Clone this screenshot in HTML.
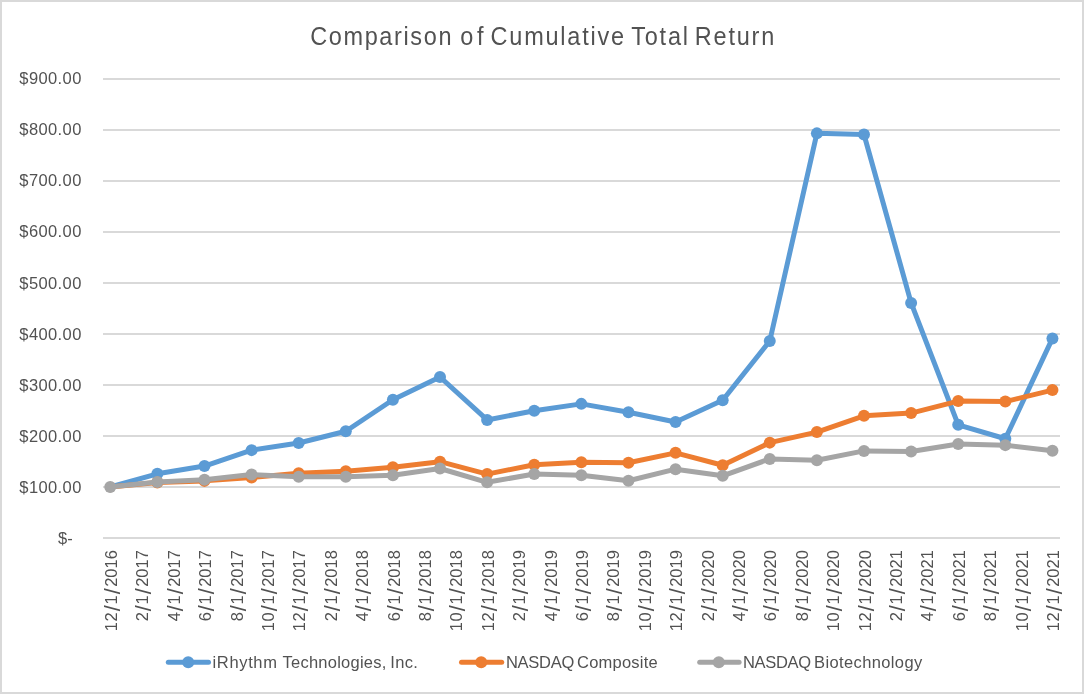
<!DOCTYPE html>
<html lang="en">
<head>
<meta charset="utf-8">
<title>Comparison of Cumulative Total Return</title>
<style>
html,body{margin:0;padding:0;background:#fff;}
body{width:1084px;height:694px;overflow:hidden;}
svg{display:block;will-change:transform;}
text{font-family:"Liberation Sans",sans-serif;fill:#525252;}
.ax{font-size:16.50px;}
.title{font-size:23.5px;}
.ax .sl{font-size:21.5px;}
</style>
</head>
<body>
<svg width="1084" height="694" viewBox="0 0 1084 694">
<rect x="0" y="0" width="1084" height="694" fill="#ffffff"/>
<rect x="1" y="1" width="1082" height="692" fill="none" stroke="#D9D9D9" stroke-width="2"/>
<g class="title" transform="translate(0,44.6) scale(1,1.063)">
<text x="310.18" y="0" textLength="141.34" lengthAdjust="spacing">Comparison</text>
<text x="460.21" y="0" textLength="23.29" lengthAdjust="spacing">of</text>
<text x="490.58" y="0" textLength="133.52" lengthAdjust="spacing">Cumulative</text>
<text x="631.23" y="0" textLength="56.74" lengthAdjust="spacing">Total</text>
<text x="694.86" y="0" textLength="79.41" lengthAdjust="spacing">Return</text>
</g>
<g stroke="#D9D9D9" stroke-width="2" fill="none" shape-rendering="crispEdges">
<line x1="103.0" y1="538.00" x2="1060.0" y2="538.00"/>
<line x1="103.0" y1="487.00" x2="1060.0" y2="487.00"/>
<line x1="103.0" y1="436.00" x2="1060.0" y2="436.00"/>
<line x1="103.0" y1="385.00" x2="1060.0" y2="385.00"/>
<line x1="103.0" y1="334.00" x2="1060.0" y2="334.00"/>
<line x1="103.0" y1="283.00" x2="1060.0" y2="283.00"/>
<line x1="103.0" y1="232.00" x2="1060.0" y2="232.00"/>
<line x1="103.0" y1="181.00" x2="1060.0" y2="181.00"/>
<line x1="103.0" y1="130.00" x2="1060.0" y2="130.00"/>
<line x1="103.0" y1="79.00" x2="1060.0" y2="79.00"/>
</g>
<g class="ax" text-anchor="end">
<text x="72.7" y="543.60">$-</text>
<text x="81.37" y="492.60" textLength="62.05" lengthAdjust="spacing">$100.00</text>
<text x="81.37" y="441.60" textLength="62.05" lengthAdjust="spacing">$200.00</text>
<text x="81.37" y="390.60" textLength="62.05" lengthAdjust="spacing">$300.00</text>
<text x="81.37" y="339.60" textLength="62.05" lengthAdjust="spacing">$400.00</text>
<text x="81.37" y="288.60" textLength="62.05" lengthAdjust="spacing">$500.00</text>
<text x="81.37" y="236.60" textLength="62.05" lengthAdjust="spacing">$600.00</text>
<text x="81.37" y="185.60" textLength="62.05" lengthAdjust="spacing">$700.00</text>
<text x="81.37" y="134.60" textLength="62.05" lengthAdjust="spacing">$800.00</text>
<text x="81.37" y="83.60" textLength="62.05" lengthAdjust="spacing">$900.00</text>
</g>
<g class="ax">
<g transform="translate(116.90,550.8) rotate(-90)"><text text-anchor="end" x="0.7" y="0">2016</text><text class="sl" text-anchor="middle" x="-40.4" y="3">/</text><text text-anchor="middle" x="-49.2" y="0">1</text><text class="sl" text-anchor="middle" x="-57.5" y="3">/</text><text x="-80.4" y="0" textLength="18.9" lengthAdjust="spacing">12</text></g>
<g transform="translate(148.31,550.8) rotate(-90)"><text text-anchor="end" x="0.7" y="0">2017</text><text class="sl" text-anchor="middle" x="-40.4" y="3">/</text><text text-anchor="middle" x="-49.2" y="0">1</text><text class="sl" text-anchor="middle" x="-57.5" y="3">/</text><text text-anchor="end" x="-61.2" y="0">2</text></g>
<g transform="translate(179.71,550.8) rotate(-90)"><text text-anchor="end" x="0.7" y="0">2017</text><text class="sl" text-anchor="middle" x="-40.4" y="3">/</text><text text-anchor="middle" x="-49.2" y="0">1</text><text class="sl" text-anchor="middle" x="-57.5" y="3">/</text><text text-anchor="end" x="-61.2" y="0">4</text></g>
<g transform="translate(211.12,550.8) rotate(-90)"><text text-anchor="end" x="0.7" y="0">2017</text><text class="sl" text-anchor="middle" x="-40.4" y="3">/</text><text text-anchor="middle" x="-49.2" y="0">1</text><text class="sl" text-anchor="middle" x="-57.5" y="3">/</text><text text-anchor="end" x="-61.2" y="0">6</text></g>
<g transform="translate(242.53,550.8) rotate(-90)"><text text-anchor="end" x="0.7" y="0">2017</text><text class="sl" text-anchor="middle" x="-40.4" y="3">/</text><text text-anchor="middle" x="-49.2" y="0">1</text><text class="sl" text-anchor="middle" x="-57.5" y="3">/</text><text text-anchor="end" x="-61.2" y="0">8</text></g>
<g transform="translate(273.93,550.8) rotate(-90)"><text text-anchor="end" x="0.7" y="0">2017</text><text class="sl" text-anchor="middle" x="-40.4" y="3">/</text><text text-anchor="middle" x="-49.2" y="0">1</text><text class="sl" text-anchor="middle" x="-57.5" y="3">/</text><text x="-80.4" y="0" textLength="18.9" lengthAdjust="spacing">10</text></g>
<g transform="translate(305.34,550.8) rotate(-90)"><text text-anchor="end" x="0.7" y="0">2017</text><text class="sl" text-anchor="middle" x="-40.4" y="3">/</text><text text-anchor="middle" x="-49.2" y="0">1</text><text class="sl" text-anchor="middle" x="-57.5" y="3">/</text><text x="-80.4" y="0" textLength="18.9" lengthAdjust="spacing">12</text></g>
<g transform="translate(336.75,550.8) rotate(-90)"><text text-anchor="end" x="0.7" y="0">2018</text><text class="sl" text-anchor="middle" x="-40.4" y="3">/</text><text text-anchor="middle" x="-49.2" y="0">1</text><text class="sl" text-anchor="middle" x="-57.5" y="3">/</text><text text-anchor="end" x="-61.2" y="0">2</text></g>
<g transform="translate(368.15,550.8) rotate(-90)"><text text-anchor="end" x="0.7" y="0">2018</text><text class="sl" text-anchor="middle" x="-40.4" y="3">/</text><text text-anchor="middle" x="-49.2" y="0">1</text><text class="sl" text-anchor="middle" x="-57.5" y="3">/</text><text text-anchor="end" x="-61.2" y="0">4</text></g>
<g transform="translate(399.56,550.8) rotate(-90)"><text text-anchor="end" x="0.7" y="0">2018</text><text class="sl" text-anchor="middle" x="-40.4" y="3">/</text><text text-anchor="middle" x="-49.2" y="0">1</text><text class="sl" text-anchor="middle" x="-57.5" y="3">/</text><text text-anchor="end" x="-61.2" y="0">6</text></g>
<g transform="translate(430.97,550.8) rotate(-90)"><text text-anchor="end" x="0.7" y="0">2018</text><text class="sl" text-anchor="middle" x="-40.4" y="3">/</text><text text-anchor="middle" x="-49.2" y="0">1</text><text class="sl" text-anchor="middle" x="-57.5" y="3">/</text><text text-anchor="end" x="-61.2" y="0">8</text></g>
<g transform="translate(462.37,550.8) rotate(-90)"><text text-anchor="end" x="0.7" y="0">2018</text><text class="sl" text-anchor="middle" x="-40.4" y="3">/</text><text text-anchor="middle" x="-49.2" y="0">1</text><text class="sl" text-anchor="middle" x="-57.5" y="3">/</text><text x="-80.4" y="0" textLength="18.9" lengthAdjust="spacing">10</text></g>
<g transform="translate(493.78,550.8) rotate(-90)"><text text-anchor="end" x="0.7" y="0">2018</text><text class="sl" text-anchor="middle" x="-40.4" y="3">/</text><text text-anchor="middle" x="-49.2" y="0">1</text><text class="sl" text-anchor="middle" x="-57.5" y="3">/</text><text x="-80.4" y="0" textLength="18.9" lengthAdjust="spacing">12</text></g>
<g transform="translate(525.19,550.8) rotate(-90)"><text text-anchor="end" x="0.7" y="0">2019</text><text class="sl" text-anchor="middle" x="-40.4" y="3">/</text><text text-anchor="middle" x="-49.2" y="0">1</text><text class="sl" text-anchor="middle" x="-57.5" y="3">/</text><text text-anchor="end" x="-61.2" y="0">2</text></g>
<g transform="translate(556.59,550.8) rotate(-90)"><text text-anchor="end" x="0.7" y="0">2019</text><text class="sl" text-anchor="middle" x="-40.4" y="3">/</text><text text-anchor="middle" x="-49.2" y="0">1</text><text class="sl" text-anchor="middle" x="-57.5" y="3">/</text><text text-anchor="end" x="-61.2" y="0">4</text></g>
<g transform="translate(588.00,550.8) rotate(-90)"><text text-anchor="end" x="0.7" y="0">2019</text><text class="sl" text-anchor="middle" x="-40.4" y="3">/</text><text text-anchor="middle" x="-49.2" y="0">1</text><text class="sl" text-anchor="middle" x="-57.5" y="3">/</text><text text-anchor="end" x="-61.2" y="0">6</text></g>
<g transform="translate(619.41,550.8) rotate(-90)"><text text-anchor="end" x="0.7" y="0">2019</text><text class="sl" text-anchor="middle" x="-40.4" y="3">/</text><text text-anchor="middle" x="-49.2" y="0">1</text><text class="sl" text-anchor="middle" x="-57.5" y="3">/</text><text text-anchor="end" x="-61.2" y="0">8</text></g>
<g transform="translate(650.81,550.8) rotate(-90)"><text text-anchor="end" x="0.7" y="0">2019</text><text class="sl" text-anchor="middle" x="-40.4" y="3">/</text><text text-anchor="middle" x="-49.2" y="0">1</text><text class="sl" text-anchor="middle" x="-57.5" y="3">/</text><text x="-80.4" y="0" textLength="18.9" lengthAdjust="spacing">10</text></g>
<g transform="translate(682.22,550.8) rotate(-90)"><text text-anchor="end" x="0.7" y="0">2019</text><text class="sl" text-anchor="middle" x="-40.4" y="3">/</text><text text-anchor="middle" x="-49.2" y="0">1</text><text class="sl" text-anchor="middle" x="-57.5" y="3">/</text><text x="-80.4" y="0" textLength="18.9" lengthAdjust="spacing">12</text></g>
<g transform="translate(713.63,550.8) rotate(-90)"><text text-anchor="end" x="0.7" y="0">2020</text><text class="sl" text-anchor="middle" x="-40.4" y="3">/</text><text text-anchor="middle" x="-49.2" y="0">1</text><text class="sl" text-anchor="middle" x="-57.5" y="3">/</text><text text-anchor="end" x="-61.2" y="0">2</text></g>
<g transform="translate(745.03,550.8) rotate(-90)"><text text-anchor="end" x="0.7" y="0">2020</text><text class="sl" text-anchor="middle" x="-40.4" y="3">/</text><text text-anchor="middle" x="-49.2" y="0">1</text><text class="sl" text-anchor="middle" x="-57.5" y="3">/</text><text text-anchor="end" x="-61.2" y="0">4</text></g>
<g transform="translate(776.44,550.8) rotate(-90)"><text text-anchor="end" x="0.7" y="0">2020</text><text class="sl" text-anchor="middle" x="-40.4" y="3">/</text><text text-anchor="middle" x="-49.2" y="0">1</text><text class="sl" text-anchor="middle" x="-57.5" y="3">/</text><text text-anchor="end" x="-61.2" y="0">6</text></g>
<g transform="translate(807.85,550.8) rotate(-90)"><text text-anchor="end" x="0.7" y="0">2020</text><text class="sl" text-anchor="middle" x="-40.4" y="3">/</text><text text-anchor="middle" x="-49.2" y="0">1</text><text class="sl" text-anchor="middle" x="-57.5" y="3">/</text><text text-anchor="end" x="-61.2" y="0">8</text></g>
<g transform="translate(839.25,550.8) rotate(-90)"><text text-anchor="end" x="0.7" y="0">2020</text><text class="sl" text-anchor="middle" x="-40.4" y="3">/</text><text text-anchor="middle" x="-49.2" y="0">1</text><text class="sl" text-anchor="middle" x="-57.5" y="3">/</text><text x="-80.4" y="0" textLength="18.9" lengthAdjust="spacing">10</text></g>
<g transform="translate(870.66,550.8) rotate(-90)"><text text-anchor="end" x="0.7" y="0">2020</text><text class="sl" text-anchor="middle" x="-40.4" y="3">/</text><text text-anchor="middle" x="-49.2" y="0">1</text><text class="sl" text-anchor="middle" x="-57.5" y="3">/</text><text x="-80.4" y="0" textLength="18.9" lengthAdjust="spacing">12</text></g>
<g transform="translate(902.07,550.8) rotate(-90)"><text text-anchor="end" x="0.7" y="0">2021</text><text class="sl" text-anchor="middle" x="-40.4" y="3">/</text><text text-anchor="middle" x="-49.2" y="0">1</text><text class="sl" text-anchor="middle" x="-57.5" y="3">/</text><text text-anchor="end" x="-61.2" y="0">2</text></g>
<g transform="translate(933.47,550.8) rotate(-90)"><text text-anchor="end" x="0.7" y="0">2021</text><text class="sl" text-anchor="middle" x="-40.4" y="3">/</text><text text-anchor="middle" x="-49.2" y="0">1</text><text class="sl" text-anchor="middle" x="-57.5" y="3">/</text><text text-anchor="end" x="-61.2" y="0">4</text></g>
<g transform="translate(964.88,550.8) rotate(-90)"><text text-anchor="end" x="0.7" y="0">2021</text><text class="sl" text-anchor="middle" x="-40.4" y="3">/</text><text text-anchor="middle" x="-49.2" y="0">1</text><text class="sl" text-anchor="middle" x="-57.5" y="3">/</text><text text-anchor="end" x="-61.2" y="0">6</text></g>
<g transform="translate(996.29,550.8) rotate(-90)"><text text-anchor="end" x="0.7" y="0">2021</text><text class="sl" text-anchor="middle" x="-40.4" y="3">/</text><text text-anchor="middle" x="-49.2" y="0">1</text><text class="sl" text-anchor="middle" x="-57.5" y="3">/</text><text text-anchor="end" x="-61.2" y="0">8</text></g>
<g transform="translate(1027.69,550.8) rotate(-90)"><text text-anchor="end" x="0.7" y="0">2021</text><text class="sl" text-anchor="middle" x="-40.4" y="3">/</text><text text-anchor="middle" x="-49.2" y="0">1</text><text class="sl" text-anchor="middle" x="-57.5" y="3">/</text><text x="-80.4" y="0" textLength="18.9" lengthAdjust="spacing">10</text></g>
<g transform="translate(1059.10,550.8) rotate(-90)"><text text-anchor="end" x="0.7" y="0">2021</text><text class="sl" text-anchor="middle" x="-40.4" y="3">/</text><text text-anchor="middle" x="-49.2" y="0">1</text><text class="sl" text-anchor="middle" x="-57.5" y="3">/</text><text x="-80.4" y="0" textLength="18.9" lengthAdjust="spacing">12</text></g>
</g>
<g>
<polyline points="110.24,487.00 157.35,473.79 204.46,466.04 251.57,450.13 298.68,443.04 345.79,431.21 392.90,399.79 440.01,376.99 487.12,419.94 534.23,410.81 581.34,403.87 628.45,412.18 675.56,422.03 722.67,400.30 769.78,341.04 816.89,133.37 864.00,134.49 911.11,302.89 958.22,424.83 1005.33,438.75 1052.44,338.39" fill="none" stroke="#5B9BD5" stroke-width="5.0" stroke-linejoin="round" stroke-linecap="round"/>
<g fill="#5B9BD5">
<circle cx="110.24" cy="487.00" r="5.3"/>
<circle cx="157.35" cy="473.79" r="6.0"/>
<circle cx="204.46" cy="466.04" r="6.0"/>
<circle cx="251.57" cy="450.13" r="6.0"/>
<circle cx="298.68" cy="443.04" r="6.0"/>
<circle cx="345.79" cy="431.21" r="6.0"/>
<circle cx="392.90" cy="399.79" r="6.0"/>
<circle cx="440.01" cy="376.99" r="6.0"/>
<circle cx="487.12" cy="419.94" r="6.0"/>
<circle cx="534.23" cy="410.81" r="6.0"/>
<circle cx="581.34" cy="403.87" r="6.0"/>
<circle cx="628.45" cy="412.18" r="6.0"/>
<circle cx="675.56" cy="422.03" r="6.0"/>
<circle cx="722.67" cy="400.30" r="6.0"/>
<circle cx="769.78" cy="341.04" r="6.0"/>
<circle cx="816.89" cy="133.37" r="6.0"/>
<circle cx="864.00" cy="134.49" r="6.0"/>
<circle cx="911.11" cy="302.89" r="6.0"/>
<circle cx="958.22" cy="424.83" r="6.0"/>
<circle cx="1005.33" cy="438.75" r="6.0"/>
<circle cx="1052.44" cy="338.39" r="6.0"/>
</g>
</g>
<g>
<polyline points="110.24,487.00 157.35,482.61 204.46,480.88 251.57,477.41 298.68,473.33 345.79,471.19 392.90,467.21 440.01,461.70 487.12,474.10 534.23,464.71 581.34,462.21 628.45,462.77 675.56,452.83 722.67,465.27 769.78,442.63 816.89,432.07 864.00,415.80 911.11,413.05 958.22,401.06 1005.33,401.57 1052.44,390.10" fill="none" stroke="#ED7D31" stroke-width="5.0" stroke-linejoin="round" stroke-linecap="round"/>
<g fill="#ED7D31">
<circle cx="110.24" cy="487.00" r="5.3"/>
<circle cx="157.35" cy="482.61" r="6.0"/>
<circle cx="204.46" cy="480.88" r="6.0"/>
<circle cx="251.57" cy="477.41" r="6.0"/>
<circle cx="298.68" cy="473.33" r="6.0"/>
<circle cx="345.79" cy="471.19" r="6.0"/>
<circle cx="392.90" cy="467.21" r="6.0"/>
<circle cx="440.01" cy="461.70" r="6.0"/>
<circle cx="487.12" cy="474.10" r="6.0"/>
<circle cx="534.23" cy="464.71" r="6.0"/>
<circle cx="581.34" cy="462.21" r="6.0"/>
<circle cx="628.45" cy="462.77" r="6.0"/>
<circle cx="675.56" cy="452.83" r="6.0"/>
<circle cx="722.67" cy="465.27" r="6.0"/>
<circle cx="769.78" cy="442.63" r="6.0"/>
<circle cx="816.89" cy="432.07" r="6.0"/>
<circle cx="864.00" cy="415.80" r="6.0"/>
<circle cx="911.11" cy="413.05" r="6.0"/>
<circle cx="958.22" cy="401.06" r="6.0"/>
<circle cx="1005.33" cy="401.57" r="6.0"/>
<circle cx="1052.44" cy="390.10" r="6.0"/>
</g>
</g>
<g>
<polyline points="110.24,487.00 157.35,482.10 204.46,479.71 251.57,474.61 298.68,476.80 345.79,476.80 392.90,475.27 440.01,468.49 487.12,482.31 534.23,473.94 581.34,475.22 628.45,480.73 675.56,469.15 722.67,475.78 769.78,458.90 816.89,460.28 864.00,450.89 911.11,451.56 958.22,443.96 1005.33,445.13 1052.44,450.79" fill="none" stroke="#A5A5A5" stroke-width="5.0" stroke-linejoin="round" stroke-linecap="round"/>
<g fill="#A5A5A5">
<circle cx="110.24" cy="487.00" r="6.0"/>
<circle cx="157.35" cy="482.10" r="6.0"/>
<circle cx="204.46" cy="479.71" r="6.0"/>
<circle cx="251.57" cy="474.61" r="6.0"/>
<circle cx="298.68" cy="476.80" r="6.0"/>
<circle cx="345.79" cy="476.80" r="6.0"/>
<circle cx="392.90" cy="475.27" r="6.0"/>
<circle cx="440.01" cy="468.49" r="6.0"/>
<circle cx="487.12" cy="482.31" r="6.0"/>
<circle cx="534.23" cy="473.94" r="6.0"/>
<circle cx="581.34" cy="475.22" r="6.0"/>
<circle cx="628.45" cy="480.73" r="6.0"/>
<circle cx="675.56" cy="469.15" r="6.0"/>
<circle cx="722.67" cy="475.78" r="6.0"/>
<circle cx="769.78" cy="458.90" r="6.0"/>
<circle cx="816.89" cy="460.28" r="6.0"/>
<circle cx="864.00" cy="450.89" r="6.0"/>
<circle cx="911.11" cy="451.56" r="6.0"/>
<circle cx="958.22" cy="443.96" r="6.0"/>
<circle cx="1005.33" cy="445.13" r="6.0"/>
<circle cx="1052.44" cy="450.79" r="6.0"/>
</g>
</g>
<line x1="168.3" y1="662.2" x2="208.5" y2="662.2" stroke="#5B9BD5" stroke-width="5" stroke-linecap="round"/>
<circle cx="188.2" cy="662.2" r="6" fill="#5B9BD5"/>
<text class="ax" x="212.55" y="668" textLength="64.40" lengthAdjust="spacing">iRhythm</text>
<text class="ax" x="282.61" y="668" textLength="103.66" lengthAdjust="spacing">Technologies,</text>
<text class="ax" x="390.24" y="668" textLength="27.59" lengthAdjust="spacing">Inc.</text>
<line x1="461.5" y1="662.2" x2="501.7" y2="662.2" stroke="#ED7D31" stroke-width="5" stroke-linecap="round"/>
<circle cx="481.2" cy="662.2" r="6" fill="#ED7D31"/>
<text class="ax" x="505.94" y="668" textLength="68.28" lengthAdjust="spacing">NASDAQ</text>
<text class="ax" x="577.01" y="668" textLength="80.71" lengthAdjust="spacing">Composite</text>
<line x1="699.7" y1="662.2" x2="739.1" y2="662.2" stroke="#A5A5A5" stroke-width="5" stroke-linecap="round"/>
<circle cx="718.8" cy="662.2" r="6" fill="#A5A5A5"/>
<text class="ax" x="742.89" y="668" textLength="68.26" lengthAdjust="spacing">NASDAQ</text>
<text class="ax" x="814.12" y="668" textLength="108.06" lengthAdjust="spacing">Biotechnology</text>
</svg>
</body>
</html>
